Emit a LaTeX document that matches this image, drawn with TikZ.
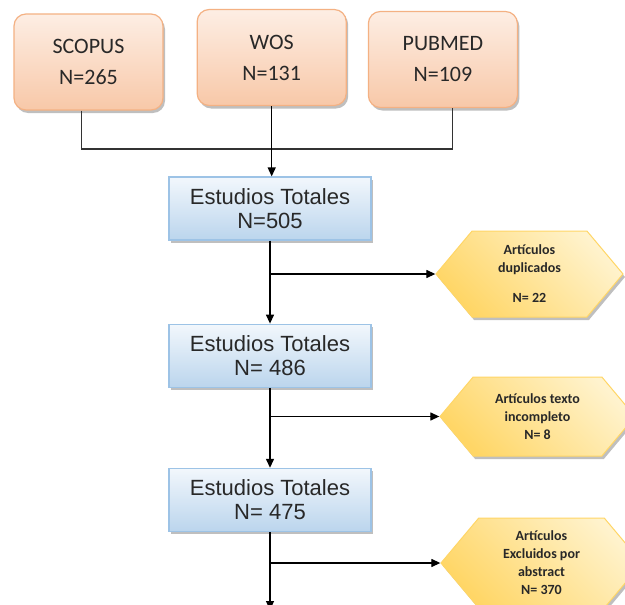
\documentclass[tikz,border=0pt]{standalone}
\usepackage{fontspec}
\setmainfont{Carlito}
\newfontfamily\arialfont{Liberation Sans}
\usetikzlibrary{arrows.meta, positioning, shapes.symbols, shadows, calc}
\definecolor{SrcOrange}{RGB}{244, 177, 131}
\definecolor{SrcLight}{RGB}{253, 238, 228}
\definecolor{SrcPeach}{RGB}{248, 200, 168}
\definecolor{TotBlue}{RGB}{157, 195, 230}
\definecolor{TotLight}{RGB}{242, 247, 252}
\definecolor{TotMid}{RGB}{187, 213, 237}
\definecolor{ExclGold}{RGB}{255, 214, 102}
\definecolor{ExclLight}{RGB}{255, 243, 206}
\definecolor{TextDark}{RGB}{40, 40, 40}
\tikzset{
  softshadow/.style={drop shadow={shadow xshift=2pt, shadow yshift=-3pt,
                     fill=black, opacity=0.25}},
  srcbox/.style={rectangle, rounded corners=12pt, draw=#1, line width=1.2pt,
                 top color=SrcLight, bottom color=SrcPeach, softshadow,
                 minimum width=149pt, minimum height=96pt,
                 font=\fontsize{22}{31}\selectfont, text=TextDark, align=center},
  totbox/.style={rectangle, draw=#1, line width=1.2pt,
                 top color=TotLight, bottom color=TotMid, softshadow,
                 minimum width=202pt, minimum height=63pt,
                 font=\arialfont\fontsize{22}{24}\selectfont, text=TextDark, align=center},
  exclbox/.style={signal, signal from=nowhere, signal to=west and east,
                  signal pointer angle=100,
                  draw=#1, line width=1pt, shading=axis, left color=ExclGold,
                  right color=ExclLight, shading angle=135, softshadow,
                  font=\bfseries\fontsize{14}{18}\selectfont, text=TextDark, align=center},
  arr/.style={-{Triangle[length=9pt, width=8pt]}, line width=1.3pt, color=#1},
  link/.style={line width=1.2pt, color=#1},
}
\begin{document}
\begin{tikzpicture}[x=1pt, y=-1pt]
      \clip (0,0) rectangle (625,605);
      \fill[white] (0,0) rectangle (625,605);

      % Sources
      \node[srcbox=SrcOrange] (scopus) at (88.5,62) {SCOPUS\\N=265};
      \node[srcbox=SrcOrange, right=33pt of scopus, yshift=4.5pt] (wos) {WOS\\N=131};
      \node[srcbox=SrcOrange, right=21pt of wos, yshift=-2pt] (pubmed) {PUBMED\\N=109};

      % Totals
      \node[totbox=TotBlue] (tot1) at (270,208.5) {Estudios Totales\\N=505};
      \node[totbox=TotBlue, below=83pt of tot1] (tot2) {Estudios Totales\\N= 486};
      \node[totbox=TotBlue, below=80pt of tot2] (tot3) {Estudios Totales\\N= 475};

      % Exclusions
      \node[exclbox=ExclGold, minimum width=187pt, minimum height=86pt] (excl1)
            at (529.5,274) {Artículos\\duplicados\\[12pt]N= 22};
      \node[exclbox=ExclGold, minimum width=195pt, minimum height=79pt] (excl2)
            at (537.5,416.5) {Artículos texto\\incompleto\\N= 8};
      \node[exclbox=ExclGold, minimum width=201pt, minimum height=90pt] (excl3)
            at (541.5,563) {Artículos\\Excluidos por\\abstract\\N= 370};

      \coordinate (join) at (270.5,149);
      \coordinate (more) at (270,610);

      \draw[link=black!80] ([xshift=-7pt]scopus.south) |- (join);
      \draw[link=black!80] ([xshift=9.5pt]pubmed.south) |- (join);
      \draw[arr=black] (wos.south) -- (wos.south |- tot1.north);

      \draw[arr=black] (tot1) -- (tot2);
      \draw[arr=black] (tot2) -- (tot3);
      \draw[arr=black] (tot3) -- (more);

      % Side branches
      \draw[arr=black] (tot1.south |- excl1.west) -- (excl1.west);
      \draw[arr=black] (tot2.south |- excl2.west) -- (excl2.west);
      \draw[arr=black] (tot3.south |- excl3.west) -- (excl3.west);
    \end{tikzpicture}
\end{document}
